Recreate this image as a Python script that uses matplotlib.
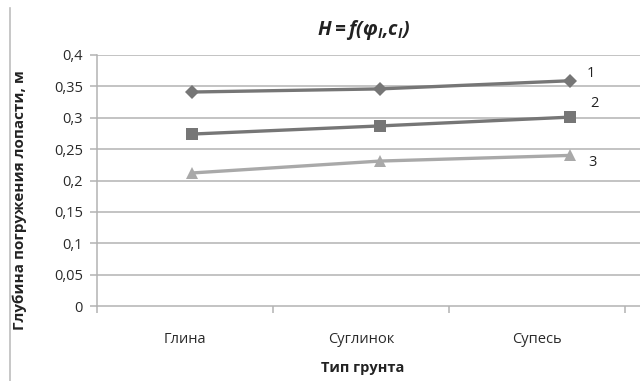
import matplotlib
matplotlib.use("Agg")
import matplotlib.pyplot as plt
from matplotlib.lines import Line2D

plt.rcParams['font.family'] = ['Open Sans', 'DejaVu Sans']
plt.rcParams['mathtext.fontset'] = 'custom'
plt.rcParams['mathtext.bfit'] = 'Open Sans:italic:bold'
plt.rcParams['mathtext.it'] = 'Open Sans:italic'
plt.rcParams['mathtext.bf'] = 'Open Sans:bold'
plt.rcParams['mathtext.rm'] = 'Open Sans'

soil_types = ["Глина", "Суглинок", "Супесь"]
series_1 = [0.341, 0.346, 0.359]
series_2 = [0.274, 0.287, 0.301]
series_3 = [0.212, 0.231, 0.240]
series_names = ["1", "2", "3"]
y_ticks = [0, 0.05, 0.1, 0.15, 0.2, 0.25, 0.3, 0.35, 0.4]
y_tick_labels = ["0", "0,05", "0,1", "0,15", "0,2", "0,25", "0,3", "0,35", "0,4"]

W, H = 640, 381
fig = plt.figure(figsize=(W / 100, H / 100), dpi=100)
fig.patch.set_facecolor("white")

# plot area: left edge at 97 px, y=0 at 306 px, y=0.4 at 55 px
cat_w = 176.0
left_px, right_px = 97, 640
ax = fig.add_axes([left_px / W, (H - 306) / H, (right_px - left_px) / W, (306 - 55) / H])
ax.set_xlim(0, (right_px - left_px) / cat_w)
ax.set_ylim(0, 0.4)

grid_c = "#b3b3b3"
for y in y_ticks[1:]:
    ax.axhline(y, color=grid_c, lw=1.1, zorder=1)

for s in ["top", "right"]:
    ax.spines[s].set_visible(False)
ax.spines["left"].set_color(grid_c)
ax.spines["bottom"].set_color(grid_c)
ax.spines["left"].set_linewidth(1.1)
ax.spines["bottom"].set_linewidth(1.1)

ax.set_yticks(y_ticks)
ax.set_yticklabels(y_tick_labels, fontsize=10.5, color="#2a2a2a")
ax.tick_params(axis="y", length=5, color=grid_c, width=1.1, pad=5)

cat_centers = [i + 0.5 for i in range(len(soil_types))]
ax.set_xticks(cat_centers)
ax.set_xticklabels(soil_types, fontsize=10.5, color="#2a2a2a")
ax.tick_params(axis="x", length=0, pad=19)
ax.set_xticks([0, 1, 2, 3], minor=True)
ax.tick_params(axis="x", which="minor", length=5, color=grid_c, width=1.1)

# marker positions along the category axis
point_x = [0.54, 1.61, 2.69]

styles = [
    (series_1, "#767676", "D", 7),
    (series_2, "#767676", "s", 9),
    (series_3, "#a9a9a9", "^", 9),
]
for vals, col, mk, ms in styles:
    ax.plot(point_x, vals, color=col, lw=2.4, marker=mk, markersize=ms,
            markeredgewidth=0, zorder=3, clip_on=False)

label_offsets = [(12, 5), (14, 10), (13, -5)]
for (vals, _, _, _), name, (dx, dy) in zip(styles, series_names, label_offsets):
    ax.annotate(name, (point_x[-1], vals[-1]), xytext=(dx, dy),
                textcoords="offset points", fontsize=10.5, color="#222222",
                ha="left", va="center")

fig.text(363 / W, 1 - 30 / H, r"$\mathbfit{H{=}f(\varphi_{I}{,}c_{I})}$",
         ha="center", va="center", fontsize=14, color="#222222")
fig.text(363 / W, 1 - 368 / H, "Тип грунта", ha="center", va="center",
         fontsize=10.5, fontweight="bold", color="#222222")
fig.text(20 / W, 1 - 200 / H, "Глубина погружения лопасти, м", ha="center",
         va="center", rotation=90, fontsize=11, fontweight="bold", color="#222222")

# outer chart border on the left
fig.add_artist(Line2D([10 / W, 10 / W], [0, 1 - 8 / H], transform=fig.transFigure,
                      color="#bdbdbd", lw=1.2))

fig.savefig("out.png", dpi=100)
